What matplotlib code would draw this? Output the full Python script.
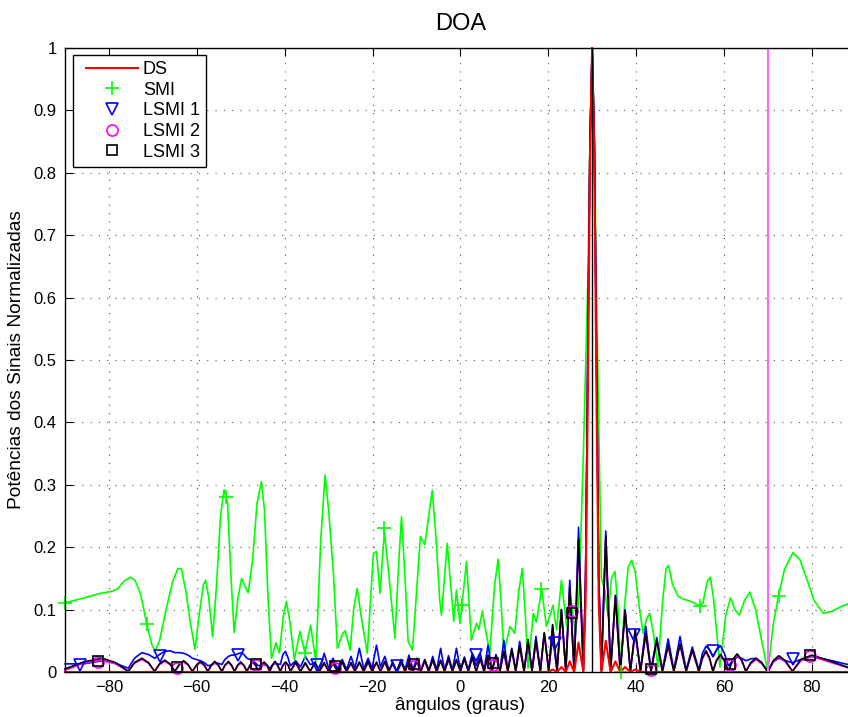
import matplotlib
matplotlib.use("Agg")
import matplotlib.pyplot as plt
from matplotlib.legend_handler import HandlerLine2D
from matplotlib.lines import Line2D
import numpy as np

plt.rcParams["font.family"] = ["Liberation Sans", "DejaVu Sans"]

# DS: delay-and-sum beam, main lobe at 30 graus
ds_ang = [-90.0, 20.1, 21.0, 22.0, 23.0, 24.0, 24.9, 25.9, 26.9, 28.0,
          28.5, 29.0, 29.5, 30.0, 30.5, 31.0, 31.5, 32.1, 33.1, 34.2,
          35.3, 36.4, 37.5, 38.7, 39.8, 41.0, 90.0]
ds_pot = [0.0, 0.0, 0.004, 0.0, 0.008, 0.0, 0.017, 0.0, 0.047, 0.0,
          0.11, 0.43, 0.82, 1.0, 0.82, 0.43, 0.11, 0.0, 0.05, 0.0,
          0.017, 0.0, 0.008, 0.0, 0.004, 0.0, 0.0]

# SMI
smi_ang = [-90.0, -86.0, -82.0, -79.5, -78.0, -76.5, -75.1, -74.0, -72.8, -71.4,
           -70.3, -69.5, -68.5, -67.0, -65.5, -64.3, -63.5, -62.5, -61.5, -60.4,
           -59.5, -58.5, -58.0, -57.3, -56.4, -55.5, -54.6, -53.8, -53.0, -52.2,
           -51.5, -50.6, -49.8, -48.9, -48.3, -47.3, -46.3, -45.3, -44.6, -43.8,
           -43.0, -42.0, -41.2, -40.3, -39.6, -38.8, -37.8, -36.5, -35.4, -34.1,
           -32.9, -31.8, -30.8, -30.0, -28.9, -28.0, -26.8, -26.2, -25.1, -24.3,
           -23.5, -22.6, -21.2, -19.8, -19.1, -18.3, -17.3, -16.2, -14.9, -14.0,
           -13.4, -12.6, -11.9, -10.9, -9.1, -8.1, -7.2, -6.4, -5.5, -4.7,
           -4.3, -3.0, -1.5, -0.9, -0.1, 1.4, 2.5, 3.7, 4.2, 5.0,
           6.7, 7.8, 8.6, 9.2, 9.9, 11.3, 12.4, 13.3, 14.1, 14.8,
           15.4, 16.6, 17.3, 18.5, 19.6, 21.1, 21.9, 23.0, 24.2, 25.3,
           26.2, 27.0, 28.0, 29.0, 29.5, 30.0, 30.5, 31.0, 32.1, 32.9,
           33.6, 34.4, 35.2, 35.9, 36.5, 37.3, 38.2, 39.0, 39.8, 40.8,
           41.6, 42.4, 43.1, 44.0, 45.0, 46.0, 46.8, 47.4, 48.3, 49.6,
           50.7, 52.5, 54.5, 55.2, 56.2, 56.9, 57.6, 59.1, 60.4, 61.5,
           62.5, 63.5, 64.7, 65.9, 67.2, 68.6, 70.0, 71.2, 72.4, 73.8,
           75.7, 77.3, 78.8, 80.5, 82.6, 84.5, 86.5, 88.2, 90.0]
smi_pot = [0.111, 0.118, 0.126, 0.129, 0.133, 0.146, 0.152, 0.146, 0.125, 0.077,
           0.045, 0.033, 0.050, 0.100, 0.145, 0.166, 0.165, 0.130, 0.080, 0.036,
           0.090, 0.140, 0.147, 0.120, 0.056, 0.140, 0.250, 0.292, 0.270, 0.150,
           0.063, 0.120, 0.150, 0.135, 0.127, 0.180, 0.270, 0.305, 0.260, 0.120,
           0.022, 0.047, 0.030, 0.090, 0.113, 0.080, 0.020, 0.065, 0.030, 0.075,
           0.017, 0.210, 0.316, 0.260, 0.158, 0.038, 0.062, 0.066, 0.035, 0.100,
           0.134, 0.090, 0.030, 0.190, 0.193, 0.126, 0.225, 0.150, 0.054, 0.180,
           0.249, 0.150, 0.049, 0.035, 0.217, 0.204, 0.250, 0.291, 0.210, 0.115,
           0.091, 0.206, 0.081, 0.131, 0.078, 0.177, 0.051, 0.078, 0.068, 0.097,
           0.030, 0.140, 0.181, 0.120, 0.030, 0.073, 0.062, 0.130, 0.166, 0.090,
           0.006, 0.094, 0.080, 0.133, 0.073, 0.107, 0.067, 0.147, 0.073, 0.110,
           0.060, 0.120, 0.350, 0.620, 0.850, 1.0, 0.850, 0.600, 0.150, 0.130,
           0.090, 0.150, 0.161, 0.100, 0.0, 0.100, 0.168, 0.179, 0.160, 0.100,
           0.062, 0.085, 0.094, 0.060, 0.008, 0.110, 0.165, 0.171, 0.140, 0.121,
           0.117, 0.113, 0.106, 0.110, 0.145, 0.152, 0.120, 0.008, 0.090, 0.119,
           0.100, 0.091, 0.115, 0.128, 0.100, 0.050, 0.0, 0.075, 0.121, 0.165,
           0.191, 0.180, 0.150, 0.115, 0.094, 0.097, 0.104, 0.109, 0.112]

# LSMI 1/2/3 share the same angle samples (nulls, lobe shoulders and tops)
lsmi_ang = [
    # wide lobes on the left: null, shoulder, top, shoulder
    -90.0, -85.8, -81.5, -78.5, -75.6,
    -74.2, -72.5, -71.0, -69.6,
    -68.5, -67.3, -66.1, -65.0,
    -64.0, -63.0, -62.0, -61.0,
    -60.1, -59.2, -58.3, -57.5,
    -56.7, -55.9, -55.1, -54.3,
    -53.6, -52.8, -52.1, -51.4,
    -50.7, -50.0, -49.3, -48.6,
    -47.9, -47.3, -46.6, -46.0,
    -45.3, -44.7, -44.0, -43.4,
    -42.8, -42.2, -41.6, -41.0,
    -40.4, -39.8, -39.2, -38.7,
    # narrow lobes: top, null
    -37.5, -36.4, -35.3, -34.2, -33.1, -32.1, -31.0, -30.0, -29.0, -28.0,
    -26.9, -25.9, -24.9, -24.0, -23.0, -22.0, -21.0, -20.1, -19.1, -18.2,
    -17.2, -16.3, -15.4, -14.5, -13.5, -12.6, -11.7, -10.8, -9.9, -9.0,
    -8.1, -7.2, -6.3, -5.4, -4.5, -3.6, -2.7, -1.8, -0.9, 0.0,
    0.9, 1.8, 2.7, 3.6, 4.5, 5.4, 6.3, 7.2, 8.1, 9.0,
    9.9, 10.8, 11.7, 12.6, 13.5, 14.5, 15.4, 16.3, 17.2, 18.2,
    19.1, 20.1, 21.0, 22.0, 23.0, 24.0, 24.9, 25.9, 26.9, 28.0,
    28.5, 29.0, 29.5, 30.0, 30.5, 31.0, 31.5, 32.1, 33.1, 34.2,
    35.3, 36.4, 37.5, 38.7, 39.8, 41.0, 42.2, 43.4, 44.7, 46.0,
    47.3, 48.6, 50.0, 51.4, 52.8, 54.3,
    # wide lobes on the right
    55.1, 55.9, 56.7, 57.5,
    58.3, 59.2, 60.1, 61.0,
    62.0, 63.0, 64.0, 65.0,
    66.1, 67.3, 68.6, 70.0,
    71.2, 72.5, 74.0, 75.6,
    77.5, 80.0, 84.0, 90.0,
]

lsmi1_pot = [
    0.013, 0.013, 0.018, 0.014, 0.006,
    0.022, 0.031, 0.028, 0.022,
    0.028, 0.033, 0.034, 0.031,
    0.031, 0.030, 0.027, 0.022,
    0.020, 0.018, 0.015, 0.010,
    0.011, 0.014, 0.014, 0.012,
    0.020, 0.025, 0.027, 0.027,
    0.029, 0.031, 0.028, 0.022,
    0.020, 0.018, 0.014, 0.010,
    0.011, 0.012, 0.010, 0.006,
    0.011, 0.014, 0.013, 0.012,
    0.028, 0.033, 0.022, 0.010,
    0.018, 0.008, 0.025, 0.012, 0.014, 0.001, 0.030, 0.006, 0.022, 0.005,
    0.020, 0.004, 0.025, 0.006, 0.038, 0.005, 0.022, 0.006, 0.043, 0.008,
    0.025, 0.004, 0.012, 0.000, 0.020, 0.004, 0.027, 0.004, 0.022, 0.003,
    0.020, 0.003, 0.025, 0.003, 0.038, 0.003, 0.026, 0.003, 0.038, 0.003,
    0.024, 0.003, 0.030, 0.010, 0.030, 0.003, 0.043, 0.003, 0.028, 0.003,
    0.051, 0.003, 0.038, 0.003, 0.049, 0.003, 0.045, 0.003, 0.057, 0.003,
    0.062, 0.003, 0.055, 0.003, 0.100, 0.003, 0.147, 0.003, 0.232, 0.004,
    0.150, 0.500, 0.850, 1.0, 0.850, 0.500, 0.150, 0.004, 0.226, 0.003,
    0.123, 0.003, 0.100, 0.003, 0.062, 0.003, 0.073, 0.003, 0.055, 0.003,
    0.053, 0.003, 0.057, 0.003, 0.040, 0.003,
    0.030, 0.041, 0.036, 0.025,
    0.035, 0.042, 0.030, 0.010,
    0.018, 0.024, 0.022, 0.018,
    0.021, 0.022, 0.015, 0.0,
    0.016, 0.022, 0.018, 0.015,
    0.020, 0.025, 0.019, 0.009,
]

lsmi2_pot = [
    0.003, 0.014, 0.019, 0.013, 0.001,
    0.014, 0.020, 0.014, 0.001,
    0.012, 0.017, 0.012, 0.001,
    0.011, 0.016, 0.011, 0.001,
    0.010, 0.015, 0.010, 0.001,
    0.010, 0.015, 0.010, 0.001,
    0.010, 0.015, 0.010, 0.001,
    0.010, 0.014, 0.010, 0.001,
    0.010, 0.015, 0.010, 0.001,
    0.010, 0.014, 0.010, 0.001,
    0.010, 0.015, 0.010, 0.001,
    0.010, 0.014, 0.010, 0.001,
    0.014, 0.001, 0.013, 0.001, 0.014, 0.001, 0.013, 0.001, 0.013, 0.001,
    0.014, 0.001, 0.013, 0.001, 0.014, 0.001, 0.015, 0.001, 0.014, 0.001,
    0.015, 0.001, 0.014, 0.001, 0.016, 0.001, 0.015, 0.001, 0.016, 0.001,
    0.017, 0.001, 0.018, 0.001, 0.017, 0.001, 0.019, 0.001, 0.018, 0.001,
    0.020, 0.001, 0.022, 0.001, 0.020, 0.001, 0.025, 0.001, 0.024, 0.001,
    0.031, 0.001, 0.034, 0.001, 0.040, 0.001, 0.050, 0.001, 0.048, 0.001,
    0.061, 0.001, 0.074, 0.001, 0.097, 0.001, 0.132, 0.002, 0.208, 0.003,
    0.150, 0.500, 0.850, 1.0, 0.850, 0.500, 0.150, 0.003, 0.213, 0.002,
    0.119, 0.001, 0.096, 0.001, 0.066, 0.001, 0.060, 0.001, 0.049, 0.001,
    0.041, 0.001, 0.043, 0.001, 0.034, 0.001,
    0.021, 0.032, 0.021, 0.001,
    0.017, 0.026, 0.017, 0.001,
    0.018, 0.027, 0.018, 0.001,
    0.013, 0.020, 0.013, 0.0,
    0.016, 0.024, 0.016, 0.001,
    0.018, 0.025, 0.016, 0.003,
]

lsmi3_pot = [
    0.005, 0.016, 0.022, 0.015, 0.001,
    0.015, 0.022, 0.015, 0.001,
    0.013, 0.019, 0.013, 0.001,
    0.012, 0.018, 0.012, 0.001,
    0.011, 0.017, 0.011, 0.001,
    0.011, 0.017, 0.011, 0.001,
    0.011, 0.017, 0.011, 0.001,
    0.011, 0.016, 0.011, 0.001,
    0.011, 0.017, 0.011, 0.001,
    0.011, 0.016, 0.011, 0.001,
    0.011, 0.017, 0.011, 0.001,
    0.011, 0.016, 0.011, 0.001,
    0.016, 0.001, 0.015, 0.001, 0.016, 0.001, 0.015, 0.001, 0.015, 0.001,
    0.016, 0.001, 0.015, 0.001, 0.016, 0.001, 0.017, 0.001, 0.016, 0.001,
    0.017, 0.001, 0.016, 0.001, 0.018, 0.001, 0.017, 0.001, 0.018, 0.001,
    0.019, 0.001, 0.020, 0.001, 0.019, 0.001, 0.021, 0.001, 0.020, 0.001,
    0.022, 0.001, 0.024, 0.001, 0.022, 0.001, 0.027, 0.001, 0.026, 0.001,
    0.033, 0.001, 0.036, 0.001, 0.042, 0.001, 0.052, 0.001, 0.050, 0.001,
    0.063, 0.001, 0.076, 0.001, 0.100, 0.001, 0.135, 0.002, 0.212, 0.003,
    0.150, 0.500, 0.850, 1.0, 0.850, 0.500, 0.150, 0.003, 0.217, 0.002,
    0.122, 0.001, 0.098, 0.001, 0.068, 0.001, 0.062, 0.001, 0.051, 0.001,
    0.043, 0.001, 0.045, 0.001, 0.036, 0.001,
    0.023, 0.034, 0.023, 0.001,
    0.019, 0.028, 0.019, 0.001,
    0.020, 0.029, 0.020, 0.001,
    0.015, 0.022, 0.015, 0.0,
    0.018, 0.026, 0.018, 0.001,
    0.020, 0.027, 0.018, 0.003,
]

# sparse markers drawn on top of each curve
smi_mk_ang = [-90.0, -71.4, -53.4, -35.4, -17.3, 0.4, 18.4, 36.5, 54.5, 72.5]
smi_mk_pot = [0.111, 0.077, 0.281, 0.030, 0.230, 0.107, 0.133, 0.0, 0.106, 0.121]
lsmi1_mk_ang = [-86.6, -68.4, -50.6, -32.7, -14.5, 3.5, 21.5, 39.6, 57.5, 75.7]
lsmi1_mk_pot = [0.011, 0.026, 0.027, 0.011, 0.009, 0.027, 0.046, 0.059, 0.033, 0.020]
lsmi23_mk_ang = [-82.4, -64.4, -46.5, -28.6, -10.5, 7.5, 25.5, 43.5, 61.3, 79.5]
lsmi2_mk_pot = [0.016, 0.007, 0.011, 0.006, 0.009, 0.011, 0.097, 0.003, 0.011, 0.025]
lsmi3_mk_pot = [0.018, 0.008, 0.012, 0.009, 0.012, 0.015, 0.095, 0.005, 0.012, 0.027]

doa_sinal = 30.0
doa_interf = 70.0

for serie in (lsmi1_pot, lsmi2_pot, lsmi3_pot):
    assert len(serie) == len(lsmi_ang)
assert len(smi_ang) == len(smi_pot)
assert len(ds_ang) == len(ds_pot)

fig = plt.figure(figsize=(8.48, 7.17), dpi=100)
ax = fig.add_axes([0.0767, 0.0628, 0.9324, 0.8703])

lw = 1.2
ax.plot(smi_ang, smi_pot, color="#00ff00", lw=lw, clip_on=False)
ax.plot(lsmi_ang, lsmi1_pot, color="#0000ff", lw=lw, clip_on=False)
ax.plot(lsmi_ang, lsmi2_pot, color="#ff00ff", lw=lw, clip_on=False)
ax.plot(lsmi_ang, lsmi3_pot, color="black", lw=lw, clip_on=False)
h_ds, = ax.plot(ds_ang, ds_pot, color="#ff0000", lw=lw + 0.3, clip_on=False, label="DS")

h_smi, = ax.plot(smi_mk_ang, smi_mk_pot, ls="none", marker="+", ms=10, mew=1.2,
                 color="#00ff00", label="SMI", clip_on=False)
h_l1, = ax.plot(lsmi1_mk_ang, lsmi1_mk_pot, ls="none", marker="v", ms=9, mew=1.2,
                mfc="none", mec="#0000ff", label="LSMI 1", clip_on=False)
h_l2, = ax.plot(lsmi23_mk_ang, lsmi2_mk_pot, ls="none", marker="o", ms=8, mew=1.2,
                mfc="none", mec="#ff00ff", label="LSMI 2", clip_on=False)
h_l3, = ax.plot(lsmi23_mk_ang, lsmi3_mk_pot, ls="none", marker="s", ms=7, mew=1.2,
                mfc="none", mec="black", label="LSMI 3", clip_on=False)

# true directions: desired signal and interferer
ax.plot([doa_sinal, doa_sinal], [0, 1], color="black", lw=1.0)
ax.plot([doa_interf, doa_interf], [0, 1], color="#ff66ff", lw=1.5)

ax.set_xlim(-90, 90)
ax.set_ylim(0, 1)
ax.set_xticks(np.arange(-80, 81, 20))
ax.set_yticks(np.arange(0, 1.01, 0.1))
ax.set_yticklabels(["0", "0.1", "0.2", "0.3", "0.4", "0.5", "0.6", "0.7", "0.8", "0.9", "1"])
ax.set_xticklabels(["\u221280", "\u221260", "\u221240", "\u221220", "0", "20", "40", "60", "80"])
ax.tick_params(direction="in", length=6, width=0.8, top=True, right=True,
               labelsize=12, pad=6)
ax.grid(True, color="#555555", lw=0.8, ls=(0, (1, 6.5)))
ax.set_axisbelow(True)
for sp in ax.spines.values():
    sp.set_linewidth(1.0)

ax.set_title("DOA", fontsize=17, pad=13)
ax.set_xlabel("ângulos (graus)", fontsize=13.5, labelpad=1)
ax.set_ylabel("Potências dos Sinais Normalizadas", fontsize=13.8, labelpad=6)

leg = ax.legend(handles=[h_ds, h_smi, h_l1, h_l2, h_l3], loc="upper left",
                bbox_to_anchor=(0.0095, 0.989), fontsize=13, numpoints=1,
                handlelength=3.3, handletextpad=0.25, labelspacing=0.2,
                borderpad=0.35, borderaxespad=0.0, fancybox=False, framealpha=1,
                handler_map={Line2D: HandlerLine2D(xpad=0.4)})
leg.get_frame().set_edgecolor("black")
leg.get_frame().set_linewidth(1.0)

fig.savefig("out.png", dpi=100)
